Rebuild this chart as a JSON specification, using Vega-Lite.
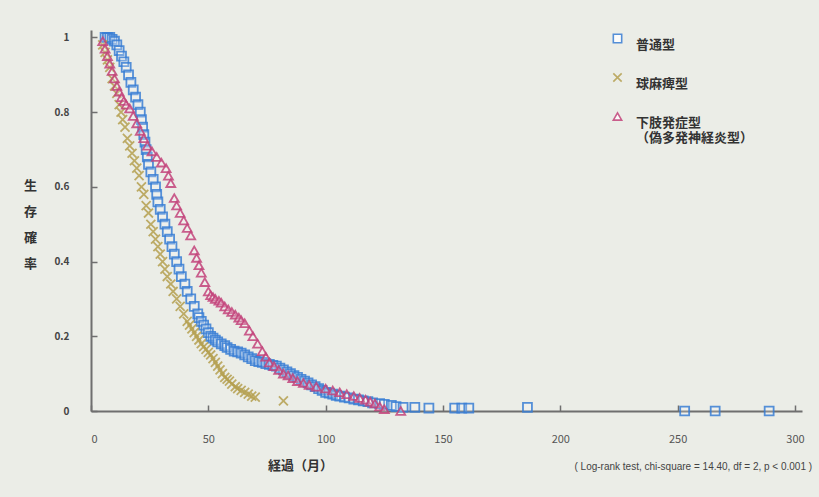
{
  "$schema": "https://vega.github.io/schema/vega-lite/v6.json",
  "autosize": "none",
  "width": 711,
  "height": 381,
  "padding": {"left": 91, "top": 30, "right": 17, "bottom": 86},
  "background": "#ebede7",
  "config": {"view": {"stroke": null}, "font": "Noto Sans CJK JP"},
  "title": {"text": "( Log-rank test, chi-square = 14.40, df = 2, p < 0.001 )", "orient": "bottom", "anchor": "end", "fontSize": 10, "fontWeight": "normal", "color": "#444", "font": "Liberation Sans", "offset": -10, "dx": 8},
  "data": {"values": [
    {"g":"普通型","t":6,"s":1},{"g":"普通型","t":7,"s":1},{"g":"普通型","t":8,"s":1},{"g":"普通型","t":9,"s":0.995},{"g":"普通型","t":10,"s":0.99},{"g":"普通型","t":11,"s":0.98},{"g":"普通型","t":12,"s":0.965},{"g":"普通型","t":13,"s":0.95},{"g":"普通型","t":14,"s":0.935},{"g":"普通型","t":15,"s":0.92},{"g":"普通型","t":16,"s":0.9},{"g":"普通型","t":17,"s":0.88},{"g":"普通型","t":18,"s":0.86},{"g":"普通型","t":19,"s":0.84},{"g":"普通型","t":20,"s":0.82},{"g":"普通型","t":21,"s":0.8},{"g":"普通型","t":21.5,"s":0.78},{"g":"普通型","t":22,"s":0.76},{"g":"普通型","t":22.5,"s":0.74},{"g":"普通型","t":23,"s":0.72},{"g":"普通型","t":23.5,"s":0.7},{"g":"普通型","t":24,"s":0.68},{"g":"普通型","t":24.5,"s":0.66},{"g":"普通型","t":25.5,"s":0.64},{"g":"普通型","t":26.5,"s":0.62},{"g":"普通型","t":27.5,"s":0.6},{"g":"普通型","t":28,"s":0.58},{"g":"普通型","t":28.5,"s":0.56},{"g":"普通型","t":29.5,"s":0.54},{"g":"普通型","t":30.5,"s":0.52},{"g":"普通型","t":31.5,"s":0.5},{"g":"普通型","t":32.5,"s":0.48},{"g":"普通型","t":33.5,"s":0.46},{"g":"普通型","t":34.5,"s":0.44},{"g":"普通型","t":35.5,"s":0.42},{"g":"普通型","t":36.5,"s":0.4},{"g":"普通型","t":37.5,"s":0.38},{"g":"普通型","t":38.5,"s":0.36},{"g":"普通型","t":40,"s":0.34},{"g":"普通型","t":41,"s":0.32},{"g":"普通型","t":42.5,"s":0.3},{"g":"普通型","t":44,"s":0.28},{"g":"普通型","t":45.5,"s":0.26},{"g":"普通型","t":46,"s":0.25},{"g":"普通型","t":47,"s":0.24},{"g":"普通型","t":48,"s":0.23},{"g":"普通型","t":49,"s":0.22},{"g":"普通型","t":50,"s":0.21},{"g":"普通型","t":51,"s":0.2},{"g":"普通型","t":52,"s":0.195},{"g":"普通型","t":53,"s":0.19},{"g":"普通型","t":54,"s":0.185},{"g":"普通型","t":55.5,"s":0.18},{"g":"普通型","t":57,"s":0.175},{"g":"普通型","t":58,"s":0.17},{"g":"普通型","t":59.5,"s":0.165},{"g":"普通型","t":61,"s":0.16},{"g":"普通型","t":62.5,"s":0.158},{"g":"普通型","t":64,"s":0.155},{"g":"普通型","t":65.5,"s":0.15},{"g":"普通型","t":67,"s":0.145},{"g":"普通型","t":68.5,"s":0.14},{"g":"普通型","t":70,"s":0.135},{"g":"普通型","t":71.5,"s":0.132},{"g":"普通型","t":73,"s":0.13},{"g":"普通型","t":74.5,"s":0.127},{"g":"普通型","t":76,"s":0.125},{"g":"普通型","t":77.5,"s":0.122},{"g":"普通型","t":79,"s":0.12},{"g":"普通型","t":80.5,"s":0.115},{"g":"普通型","t":82,"s":0.11},{"g":"普通型","t":83.5,"s":0.105},{"g":"普通型","t":85,"s":0.1},{"g":"普通型","t":86.5,"s":0.095},{"g":"普通型","t":88,"s":0.09},{"g":"普通型","t":89.5,"s":0.085},{"g":"普通型","t":91,"s":0.08},{"g":"普通型","t":92.5,"s":0.075},{"g":"普通型","t":94,"s":0.07},{"g":"普通型","t":95.5,"s":0.065},{"g":"普通型","t":97,"s":0.06},{"g":"普通型","t":98.5,"s":0.055},{"g":"普通型","t":100,"s":0.05},{"g":"普通型","t":101.5,"s":0.048},{"g":"普通型","t":103,"s":0.045},{"g":"普通型","t":104.5,"s":0.042},{"g":"普通型","t":106,"s":0.04},{"g":"普通型","t":108,"s":0.037},{"g":"普通型","t":110,"s":0.035},{"g":"普通型","t":112,"s":0.032},{"g":"普通型","t":114,"s":0.03},{"g":"普通型","t":116,"s":0.027},{"g":"普通型","t":118,"s":0.025},{"g":"普通型","t":120,"s":0.022},{"g":"普通型","t":123,"s":0.02},{"g":"普通型","t":125,"s":0.018},{"g":"普通型","t":128,"s":0.015},{"g":"普通型","t":130,"s":0.012},{"g":"普通型","t":133,"s":0.01},{"g":"普通型","t":138,"s":0.01},{"g":"普通型","t":144,"s":0.008},{"g":"普通型","t":155,"s":0.008},{"g":"普通型","t":158,"s":0.008},{"g":"普通型","t":161,"s":0.008},{"g":"普通型","t":186,"s":0.01},{"g":"普通型","t":253,"s":0},{"g":"普通型","t":266,"s":0},{"g":"普通型","t":289,"s":0},
    {"g":"球麻痺型","t":5,"s":0.98},{"g":"球麻痺型","t":6,"s":0.96},{"g":"球麻痺型","t":7,"s":0.94},{"g":"球麻痺型","t":8,"s":0.92},{"g":"球麻痺型","t":9,"s":0.89},{"g":"球麻痺型","t":10,"s":0.87},{"g":"球麻痺型","t":11,"s":0.85},{"g":"球麻痺型","t":12,"s":0.82},{"g":"球麻痺型","t":12.8,"s":0.8},{"g":"球麻痺型","t":13.5,"s":0.78},{"g":"球麻痺型","t":14.5,"s":0.76},{"g":"球麻痺型","t":15.5,"s":0.73},{"g":"球麻痺型","t":16.5,"s":0.71},{"g":"球麻痺型","t":17.5,"s":0.69},{"g":"球麻痺型","t":18.5,"s":0.67},{"g":"球麻痺型","t":19.5,"s":0.65},{"g":"球麻痺型","t":20.5,"s":0.63},{"g":"球麻痺型","t":21.5,"s":0.6},{"g":"球麻痺型","t":22.5,"s":0.58},{"g":"球麻痺型","t":23.5,"s":0.55},{"g":"球麻痺型","t":24.5,"s":0.53},{"g":"球麻痺型","t":25.5,"s":0.5},{"g":"球麻痺型","t":26.5,"s":0.48},{"g":"球麻痺型","t":27.5,"s":0.46},{"g":"球麻痺型","t":28.5,"s":0.44},{"g":"球麻痺型","t":29.5,"s":0.42},{"g":"球麻痺型","t":30.5,"s":0.4},{"g":"球麻痺型","t":31.5,"s":0.38},{"g":"球麻痺型","t":32.5,"s":0.36},{"g":"球麻痺型","t":34,"s":0.34},{"g":"球麻痺型","t":35,"s":0.32},{"g":"球麻痺型","t":36.5,"s":0.3},{"g":"球麻痺型","t":38,"s":0.28},{"g":"球麻痺型","t":39.5,"s":0.26},{"g":"球麻痺型","t":41,"s":0.24},{"g":"球麻痺型","t":42,"s":0.23},{"g":"球麻痺型","t":43,"s":0.22},{"g":"球麻痺型","t":44,"s":0.21},{"g":"球麻痺型","t":45,"s":0.2},{"g":"球麻痺型","t":46,"s":0.19},{"g":"球麻痺型","t":47,"s":0.18},{"g":"球麻痺型","t":48,"s":0.172},{"g":"球麻痺型","t":49,"s":0.165},{"g":"球麻痺型","t":50,"s":0.157},{"g":"球麻痺型","t":51,"s":0.15},{"g":"球麻痺型","t":52,"s":0.14},{"g":"球麻痺型","t":53,"s":0.13},{"g":"球麻痺型","t":54,"s":0.12},{"g":"球麻痺型","t":55,"s":0.11},{"g":"球麻痺型","t":56,"s":0.1},{"g":"球麻痺型","t":57,"s":0.09},{"g":"球麻痺型","t":58,"s":0.085},{"g":"球麻痺型","t":59,"s":0.08},{"g":"球麻痺型","t":60,"s":0.072},{"g":"球麻痺型","t":61.5,"s":0.065},{"g":"球麻痺型","t":62.5,"s":0.06},{"g":"球麻痺型","t":64,"s":0.055},{"g":"球麻痺型","t":65.5,"s":0.05},{"g":"球麻痺型","t":67,"s":0.045},{"g":"球麻痺型","t":68.5,"s":0.04},{"g":"球麻痺型","t":70,"s":0.037},{"g":"球麻痺型","t":82,"s":0.027},
    {"g":"下肢発症型","t":5,"s":0.99},{"g":"下肢発症型","t":6,"s":0.97},{"g":"下肢発症型","t":7,"s":0.95},{"g":"下肢発症型","t":8,"s":0.93},{"g":"下肢発症型","t":9,"s":0.91},{"g":"下肢発症型","t":10,"s":0.89},{"g":"下肢発症型","t":11,"s":0.87},{"g":"下肢発症型","t":12,"s":0.855},{"g":"下肢発症型","t":13,"s":0.84},{"g":"下肢発症型","t":14,"s":0.83},{"g":"下肢発症型","t":15,"s":0.82},{"g":"下肢発症型","t":16.5,"s":0.81},{"g":"下肢発症型","t":18,"s":0.79},{"g":"下肢発症型","t":19.5,"s":0.77},{"g":"下肢発症型","t":21,"s":0.75},{"g":"下肢発症型","t":22.5,"s":0.73},{"g":"下肢発症型","t":24,"s":0.71},{"g":"下肢発症型","t":26,"s":0.695},{"g":"下肢発症型","t":28,"s":0.68},{"g":"下肢発症型","t":30,"s":0.665},{"g":"下肢発症型","t":32,"s":0.65},{"g":"下肢発症型","t":33,"s":0.63},{"g":"下肢発症型","t":34,"s":0.61},{"g":"下肢発症型","t":35.5,"s":0.57},{"g":"下肢発症型","t":36.5,"s":0.55},{"g":"下肢発症型","t":38,"s":0.53},{"g":"下肢発症型","t":39.5,"s":0.51},{"g":"下肢発症型","t":41,"s":0.49},{"g":"下肢発症型","t":42.5,"s":0.47},{"g":"下肢発症型","t":44,"s":0.43},{"g":"下肢発症型","t":45,"s":0.41},{"g":"下肢発症型","t":46,"s":0.39},{"g":"下肢発症型","t":47,"s":0.37},{"g":"下肢発症型","t":48.5,"s":0.345},{"g":"下肢発症型","t":50,"s":0.32},{"g":"下肢発症型","t":51,"s":0.31},{"g":"下肢発症型","t":52,"s":0.305},{"g":"下肢発症型","t":53,"s":0.3},{"g":"下肢発症型","t":54.5,"s":0.295},{"g":"下肢発症型","t":55.5,"s":0.29},{"g":"下肢発症型","t":57,"s":0.28},{"g":"下肢発症型","t":58.5,"s":0.272},{"g":"下肢発症型","t":60,"s":0.265},{"g":"下肢発症型","t":61.5,"s":0.258},{"g":"下肢発症型","t":63,"s":0.25},{"g":"下肢発症型","t":64,"s":0.243},{"g":"下肢発症型","t":65.5,"s":0.235},{"g":"下肢発症型","t":67.5,"s":0.215},{"g":"下肢発症型","t":69,"s":0.2},{"g":"下肢発症型","t":71,"s":0.18},{"g":"下肢発症型","t":73,"s":0.16},{"g":"下肢発症型","t":74.5,"s":0.145},{"g":"下肢発症型","t":76,"s":0.13},{"g":"下肢発症型","t":78,"s":0.12},{"g":"下肢発症型","t":80,"s":0.11},{"g":"下肢発症型","t":82,"s":0.1},{"g":"下肢発症型","t":84,"s":0.095},{"g":"下肢発症型","t":86,"s":0.088},{"g":"下肢発症型","t":88,"s":0.08},{"g":"下肢発症型","t":90.5,"s":0.075},{"g":"下肢発症型","t":93,"s":0.07},{"g":"下肢発症型","t":96,"s":0.065},{"g":"下肢発症型","t":100,"s":0.06},{"g":"下肢発症型","t":103,"s":0.055},{"g":"下肢発症型","t":106,"s":0.05},{"g":"下肢発症型","t":109,"s":0.045},{"g":"下肢発症型","t":112,"s":0.04},{"g":"下肢発症型","t":114.5,"s":0.035},{"g":"下肢発症型","t":117,"s":0.03},{"g":"下肢発症型","t":119,"s":0.025},{"g":"下肢発症型","t":121,"s":0.02},{"g":"下肢発症型","t":123,"s":0.012},{"g":"下肢発症型","t":125,"s":0.005},{"g":"下肢発症型","t":132,"s":0}
  ]},
  "mark": {"type": "point", "filled": false, "strokeWidth": 1.8, "size": 80, "fill": "#ffffff", "fillOpacity": 0.25, "opacity": 0.85},
  "encoding": {
    "x": {"field": "t", "type": "quantitative", "scale": {"domain": [0, 303], "nice": false},
      "axis": {"values": [0, 50, 100, 150, 200, 250, 300], "grid": false, "domainColor": "#6f6f6f", "domainWidth": 2, "tickColor": "#6f6f6f", "tickSize": -6, "tickWidth": 1.5, "labelPadding": 28, "labelFontSize": 11, "labelColor": "#555", "title": "経過（月）", "titleFontSize": 13, "titleColor": "#333", "titleFontWeight": "bold", "titleX": 209, "titleY": 48}},
    "y": {"field": "s", "type": "quantitative", "scale": {"domain": [0, 1.02], "nice": false},
      "axis": {"values": [0, 0.2, 0.4, 0.6, 0.8, 1], "labelExpr": "datum.value == 1 ? '1' : datum.value == 0 ? '0' : format(datum.value, '.1f')", "grid": false, "domainColor": "#6f6f6f", "domainWidth": 2, "tickColor": "#6f6f6f", "tickSize": -6, "tickWidth": 1.5, "labelPadding": 28, "labelFontSize": 10, "labelColor": "#444", "labelFontWeight": "bold", "title": ["生", "存", "確", "率"], "titleAngle": 0, "titleFontSize": 13, "titleLineHeight": 26, "titleColor": "#333", "titleFontWeight": "bold", "titleAlign": "center", "titleBaseline": "middle", "titleX": -61, "titleY": 155}},
    "color": {"field": "g", "type": "nominal", "scale": {"domain": ["普通型", "球麻痺型", "下肢発症型"], "range": ["#3a7fd5", "#b5a050", "#c4457c"]},
      "legend": {"orient": "none", "legendX": 520, "legendY": 2, "title": null, "labelFontSize": 13, "labelColor": "#333", "labelFontWeight": "bold", "symbolSize": 70, "symbolStrokeWidth": 1.6, "rowPadding": 18, "labelOffset": 12, "labelBaseline": "top", "labelExpr": "datum.label == '下肢発症型' ? ['下肢発症型', '（偽多発神経炎型）'] : datum.label",
        "encode": {"labels": {"update": {"lineHeight": {"value": 23}}}}}},
    "shape": {"field": "g", "type": "nominal", "scale": {"domain": ["普通型", "球麻痺型", "下肢発症型"], "range": ["square", "M-1,-1L1,1M-1,1L1,-1", "triangle-up"]}}
  }
}
